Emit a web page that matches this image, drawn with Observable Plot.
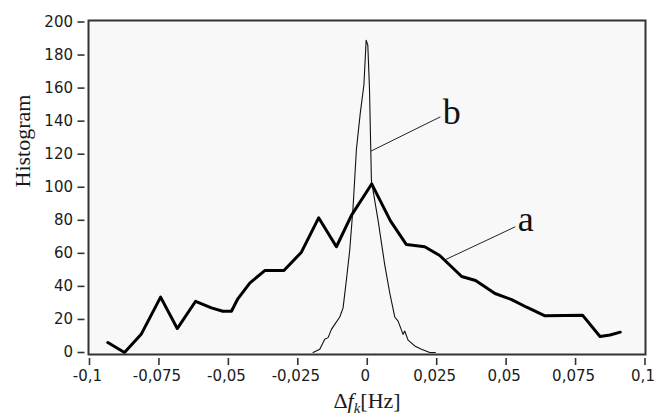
<!DOCTYPE html>
<html>
<head>
<meta charset="utf-8">
<script src="https://cdn.jsdelivr.net/npm/d3@7"></script>
<script src="https://cdn.jsdelivr.net/npm/@observablehq/plot@0.6"></script>
<style>
  html, body { margin: 0; padding: 0; background: #ffffff; }
  #chart { width: 654px; height: 417px; }
</style>
</head>
<body>
<div id="chart"></div>
<script>
// Series a (broad histogram, thick line)
const aX = [-0.0934, -0.0874, -0.0814, -0.0744, -0.0684, -0.0618, -0.0561, -0.0520, -0.0489, -0.0466, -0.0423, -0.0369, -0.0300, -0.0237, -0.0175, -0.0111, -0.0057, 0.0016, 0.0084, 0.0141, 0.0207, 0.0261, 0.0340, 0.0390, 0.0460, 0.0520, 0.0574, 0.0640, 0.0775, 0.0838, 0.0874, 0.0911];
const aY = [6, 0, 11, 33.5, 14.5, 31, 27, 25, 25, 32.5, 42, 49.6, 49.6, 60.7, 81.5, 64, 83, 102, 79.5, 65.3, 64, 58.7, 46, 43.6, 35.7, 32, 27.4, 22.2, 22.6, 9.7, 10.6, 12.3];

// Series b (narrow histogram, thin line)
const bX = [-0.0195, -0.0171, -0.0153, -0.0141, -0.0129, -0.0117, -0.0099, -0.0087, -0.0075, -0.0063, -0.0051, -0.0039, -0.0025, -0.0012, -0.0004, 0.0002, 0.0008, 0.0015, 0.0039, 0.0063, 0.0081, 0.0099, 0.0111, 0.0129, 0.0135, 0.0147, 0.0171, 0.0195, 0.0225, 0.0245];
const bY = [0, 2, 8, 9, 14, 17, 21.5, 27, 44, 62, 88, 123, 145, 162, 189, 186, 160, 104, 80, 53, 36, 21.5, 19, 11, 13, 7.5, 4, 2, 0, 0];

// Callout labels and their leader lines
const labelNames = ["a", "b"];
const labelX = [0.0542, 0.0272];
const labelY = [80.8, 145];
const leaderAX = [0.0279, 0.0532];
const leaderAY = [56, 76];
const leaderBX = [0.0015, 0.0262];
const leaderBY = [122, 142.5];

// Axis ticks
const xTicks = [-0.1, -0.075, -0.05, -0.025, 0, 0.025, 0.05, 0.075, 0.1];
const xTickLabels = ["-0,1", "-0,075", "-0,05", "-0,025", "0", "0,025", "0,05", "0,075", "0,1"];
const yTicks = [0, 20, 40, 60, 80, 100, 120, 140, 160, 180, 200];
const yTickLabels = ["0", "20", "40", "60", "80", "100", "120", "140", "160", "180", "200"];

const xTitle = "Δfk[Hz]";
const yTitle = "Histogram";

const aData = aX.map((x, i) => ({x, y: aY[i]}));
const bData = bX.map((x, i) => ({x, y: bY[i]}));
const leaderA = leaderAX.map((x, i) => ({x, y: leaderAY[i]}));
const leaderB = leaderBX.map((x, i) => ({x, y: leaderBY[i]}));
const labels = labelNames.map((t, i) => ({t, x: labelX[i], y: labelY[i]}));
const xLabelMap = new Map(xTicks.map((v, i) => [v, xTickLabels[i]]));
const yLabelMap = new Map(yTicks.map((v, i) => [v, yTickLabels[i]]));

const chart = Plot.plot({
  width: 654,
  height: 417,
  marginLeft: 88,
  marginRight: 9,
  marginTop: 20,
  marginBottom: 63,
  x: {domain: [-0.1, 0.1], insetLeft: 1, insetRight: 0.5},
  y: {domain: [0, 200], insetTop: 1.5, insetBottom: 2},
  style: {background: "#ffffff", fontFamily: "DejaVu Sans", fontSize: "15px", color: "#1a1a1a"},
  marks: [
    Plot.frame({fill: "#f8f8f8", stroke: null}),
    Plot.line(bData, {x: "x", y: "y", stroke: "#111", strokeWidth: 1.1}),
    Plot.line(aData, {x: "x", y: "y", stroke: "#000", strokeWidth: 3, strokeLinejoin: "round"}),
    Plot.line(leaderA, {x: "x", y: "y", stroke: "#222", strokeWidth: 1}),
    Plot.line(leaderB, {x: "x", y: "y", stroke: "#222", strokeWidth: 1}),
    Plot.text(labels, {x: "x", y: "y", text: "t", textAnchor: "start", fontFamily: "Liberation Serif", fontSize: 36, fill: "#111"}),
    Plot.frame({stroke: "#333", strokeWidth: 2}),
    // x tick marks
    Plot.axisX({ticks: xTicks, tickFormat: () => "", tickSize: 7, dy: 4, label: null, stroke: "#333", strokeWidth: 1.6}),
    // x tick labels (nudged left so the last one stays inside the picture)
    Plot.axisX({ticks: xTicks, tickFormat: d => xLabelMap.get(d), tickSize: 0, tickPadding: 12, dy: 4, dx: -2, label: null, fill: "#1a1a1a"}),
    Plot.axisY({ticks: yTicks, tickFormat: d => yLabelMap.get(d), tickSize: 7, tickPadding: 5, dx: -3.5, label: null, stroke: "#333", strokeWidth: 1.6, fill: "#1a1a1a"}),
    Plot.text([yTitle], {frameAnchor: "left", dx: -66, rotate: -90, fontFamily: "Liberation Serif", fontSize: 22, fill: "#1a1a1a"}),
    Plot.text([xTitle], {frameAnchor: "bottom", dy: 53, fontFamily: "Liberation Serif", fontSize: 22, fill: "#1a1a1a"})
  ]
});

document.getElementById("chart").appendChild(chart);

// Style the x title: italic f with subscript k
d3.select(chart).selectAll("text").filter(function () { return this.textContent === xTitle; })
  .each(function () {
    const t = d3.select(this);
    t.text(null);
    t.append("tspan").text("Δ");
    t.append("tspan").attr("font-style", "italic").text("f");
    t.append("tspan").attr("font-style", "italic").attr("font-size", 15).attr("dy", 5).text("k");
    t.append("tspan").attr("dy", -5).text("[Hz]");
  });
</script>
</body>
</html>
